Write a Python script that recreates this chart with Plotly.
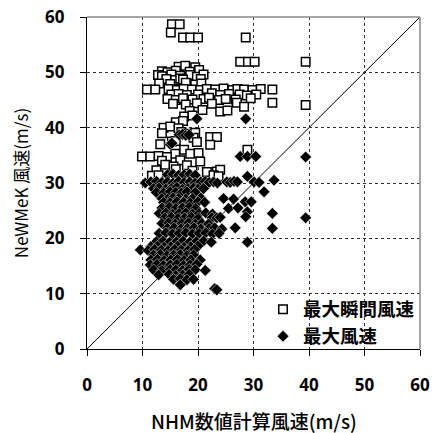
import plotly.graph_objects as go

# 最大瞬間風速 (open squares)
gust_x = [15.3, 16.7, 15.1, 17.3, 18.6, 20.0, 28.6, 27.6, 29.0, 30.2, 39.4,
          16.5, 17.7, 19.5,
          13.5, 14.5, 16.0, 18.5, 20.2,
          12.8, 13.5, 15.2, 16.8, 18.6, 19.8, 21.0,
          14.3, 15.9, 16.8, 17.3, 20.5,
          13.0, 15.0, 17.8, 19.5, 20.6,
          10.8, 12.3, 14.7, 16.2, 17.4, 18.9, 20.4, 21.6, 23.1, 24.6, 26.2, 27.1, 28.3, 29.8, 31.3, 33.4,
          15.2, 16.5, 18.0, 20.0, 22.5, 24.0, 25.6, 27.5, 28.8, 30.5,
          14.5, 16.0, 17.3, 19.0, 21.0, 22.0, 23.8, 25.0, 26.8, 29.5,
          15.5, 17.8, 19.8, 22.5, 27.0, 28.3, 33.4, 39.4,
          18.5, 20.8, 24.0, 25.3,
          17.5, 19.0,
          16.0, 17.3,
          13.8, 15.0, 16.5,
          13.5, 17.0, 18.2, 19.5,
          19.2, 22.2, 23.4,
          15.3, 16.0, 19.8,
          13.2, 22.2,
          17.5, 28.9,
          15.9, 18.6, 20.1,
          9.9, 11.4, 12.9, 14.4,
          13.5, 16.8,
          14.1, 15.6, 18.0, 20.4,
          12.5, 16.0, 19.0, 21.6, 23.4, 24.0,
          11.7, 12.9, 22.8, 23.7]
gust_y = [58.7, 58.7, 57.2, 56.3, 56.3, 56.3, 56.3, 51.9, 51.9, 51.9, 51.9,
          51.0, 51.2, 50.9,
          50.2, 50.0, 50.3, 50.1, 50.4,
          49.5, 49.3, 49.6, 49.4, 49.5, 49.2, 49.6,
          48.8, 48.6, 48.9, 48.7, 48.8,
          48.0, 47.9, 48.1, 47.8, 48.0,
          46.9, 46.9, 47.0, 46.8, 47.0, 46.9, 46.8, 47.0, 46.9, 47.1, 46.8, 47.0, 46.9, 46.8, 47.0, 46.9,
          46.0, 46.1, 45.9, 46.0, 46.2, 45.9, 46.1, 46.0, 45.8, 46.0,
          45.2, 45.0, 45.3, 45.1, 45.2, 45.4, 45.0, 45.2, 45.1, 45.3,
          44.3, 44.2, 44.4, 44.3, 44.5, 43.8, 44.5, 44.1,
          43.0, 43.2, 42.9, 43.1,
          42.0, 42.2,
          41.0, 41.2,
          40.0, 40.2, 39.9,
          39.0, 39.2, 38.9, 39.1,
          38.2, 38.3, 38.3,
          37.5, 37.6, 37.4,
          37.0, 36.9,
          36.0, 36.0,
          35.3, 35.3, 35.4,
          34.8, 34.8, 34.9, 34.7,
          34.0, 34.1,
          33.3, 33.0, 33.2, 33.9,
          32.3, 32.5, 32.2, 32.0, 32.1, 32.4,
          31.3, 31.4, 31.4, 31.2]

# 最大風速 (filled diamonds)
mean_x = [19.8, 28.6,
          16.6, 17.2, 17.8, 18.4,
          15.0, 15.3,
          27.6, 28.9, 30.4, 39.4,
          14.5, 15.5, 16.5, 17.5, 18.5, 19.5, 28.9,
          10.5, 11.5, 12.5, 13.5, 14.5, 15.5, 16.5, 17.5, 18.5, 19.5, 20.5, 21.3, 22.0, 22.8, 23.5, 25.2, 25.8, 26.5, 27.1, 30.1, 31.0, 33.7,
          12.0, 13.0, 14.2, 15.2, 16.2, 17.2, 18.2, 19.2, 20.0, 21.0,
          12.5, 13.8, 15.0, 16.0, 17.0, 18.0, 19.5, 31.9,
          13.5, 14.5, 15.5, 16.5, 17.8, 19.0, 20.5, 24.6, 26.4,
          13.8, 15.0, 16.2, 17.4, 18.6, 20.0, 21.2, 28.5, 29.6,
          13.5, 14.8, 16.0, 17.2, 18.4, 19.6, 25.5, 27.2,
          13.0, 14.2, 15.4, 16.6, 17.8, 19.0, 20.2, 21.4, 22.6, 28.9, 33.4,
          14.0, 15.2, 16.4, 17.6, 18.8, 20.0, 22.5, 23.4, 24.0, 28.6, 39.4,
          13.5, 14.7, 15.9, 17.1, 18.3, 19.5, 20.7, 21.9,
          14.5, 15.7, 16.9, 18.1, 19.3, 20.5, 22.0, 23.0, 24.3, 26.7, 33.4,
          13.0, 14.2, 15.4, 16.6, 17.8, 19.0, 20.2, 21.4, 22.6, 23.8,
          12.5, 13.7, 14.9, 16.1, 17.3, 18.5, 19.7, 21.0, 22.4, 28.9,
          11.5, 12.7, 13.9, 15.1, 16.3, 17.5, 18.7, 20.0,
          9.6, 11.0, 12.2, 13.4, 14.6, 15.8, 17.0, 18.2, 19.4,
          12.0, 13.2, 14.4, 15.6, 16.8, 18.0, 19.2,
          11.5, 12.7, 13.9, 15.1, 16.3, 17.5, 18.7, 20.4,
          11.4, 12.6, 13.8, 15.0, 16.2, 17.4, 18.6, 19.8,
          12.0, 13.5, 15.0, 16.0, 17.2, 18.4, 19.5, 21.3,
          12.9, 14.8, 16.0, 17.2, 18.4,
          15.6, 16.8, 18.0, 19.2,
          16.8,
          23.0, 23.4]
mean_y = [41.6, 41.6,
          38.7, 38.8, 38.6, 38.7,
          37.0, 37.2,
          34.8, 34.8, 34.8, 34.7,
          31.5, 31.6, 31.4, 31.5, 31.6, 31.4, 31.2,
          30.0, 30.2, 30.3, 30.1, 30.2, 30.0, 30.3, 30.1, 30.2, 30.0, 30.2, 30.3, 30.1, 30.2, 30.0, 30.2, 30.1, 30.3, 30.2, 30.2, 30.1, 30.5,
          29.0, 29.1, 28.9, 29.0, 29.2, 28.9, 29.0, 29.1, 28.9, 29.0,
          28.3, 28.2, 28.4, 28.3, 28.2, 28.4, 28.3, 28.4,
          27.2, 27.1, 27.3, 27.2, 27.1, 27.2, 27.3, 27.2, 27.1,
          26.5, 26.4, 26.6, 26.5, 26.4, 26.6, 26.5, 26.6, 26.6,
          25.5, 25.6, 25.4, 25.5, 25.6, 25.4, 25.4, 25.5,
          24.5, 24.6, 24.4, 24.5, 24.6, 24.4, 24.5, 24.6, 24.4, 24.8, 24.5,
          23.7, 23.8, 23.6, 23.7, 23.8, 23.6, 23.7, 23.7, 23.8, 23.9, 23.7,
          22.7, 22.8, 22.6, 22.7, 22.8, 22.6, 22.7, 22.6,
          21.8, 21.9, 21.7, 21.8, 21.9, 21.7, 21.8, 21.9, 21.7, 21.9, 21.8,
          20.9, 21.0, 20.8, 20.9, 21.0, 20.8, 20.9, 21.0, 20.8, 20.9,
          19.4, 19.5, 19.3, 19.4, 19.5, 19.3, 19.4, 19.5, 19.3, 19.3,
          18.5, 18.6, 18.4, 18.5, 18.6, 18.4, 18.5, 18.6,
          17.9, 17.8, 18.0, 17.9, 17.8, 18.0, 17.9, 17.8, 18.0,
          17.0, 17.1, 16.9, 17.0, 17.1, 16.9, 17.0,
          16.1, 16.2, 16.0, 16.1, 16.2, 16.0, 16.1, 16.1,
          15.2, 15.3, 15.1, 15.2, 15.3, 15.1, 15.2, 15.3,
          14.3, 14.2, 14.4, 14.3, 14.2, 14.4, 14.3, 14.2,
          13.4, 13.5, 13.3, 13.4, 13.5,
          12.6, 12.7, 12.5, 12.6,
          11.6,
          10.9, 10.7]

legend_names = ["最大瞬間風速", "最大風速"]
tick_vals = [0, 10, 20, 30, 40, 50, 60]
axis_range = [0, 60]
x_title = "NHM数値計算風速(m/s)"
y_title = "NeWMeK 風速(m/s)"

fig = go.Figure()

fig.add_shape(type="line", xref="x", yref="y", x0=axis_range[0], y0=axis_range[0],
              x1=axis_range[1], y1=axis_range[1], line=dict(color="black", width=1), layer="below")

# white panel behind the legend (covers gridlines like the original)
fig.add_shape(type="rect", xref="paper", yref="paper", x0=0.61, x1=0.997, y0=0.006, y1=0.16,
              fillcolor="white", line=dict(width=0), layer="between")

fig.add_trace(go.Scatter(
    x=gust_x, y=gust_y, mode="markers", name=legend_names[0],
    marker=dict(symbol="square", size=8.5, color="white", line=dict(color="black", width=1.5)),
))
fig.add_trace(go.Scatter(
    x=mean_x, y=mean_y, mode="markers", name=legend_names[1],
    marker=dict(symbol="diamond", size=9, color="black", line=dict(color="white", width=0.5)),
))

# top/right frame in gray
fig.add_shape(type="line", xref="paper", yref="paper", x0=0, y0=1, x1=1, y1=1,
              line=dict(color="#888", width=1.5))
fig.add_shape(type="line", xref="paper", yref="paper", x0=1, y0=0, x1=1, y1=1,
              line=dict(color="#888", width=1.5))

tick_font = dict(family="Open Sans, sans-serif", size=17, color="black", weight="bold")
axis_common = dict(
    range=axis_range, tickvals=tick_vals, showgrid=True, gridcolor="#333", griddash="dot",
    gridwidth=1, showline=True, linecolor="black", linewidth=1.2, ticks="outside",
    ticklen=6, tickcolor="black", zeroline=False, tickfont=tick_font, fixedrange=True,
    automargin=False,
)

fig.add_annotation(text=x_title, xref="paper", yref="paper", x=0.5, y=-0.214,
                   xanchor="center", yanchor="middle", showarrow=False,
                   font=dict(family="Noto Sans CJK JP", size=19, color="black", weight=500))

fig.update_layout(
    width=436, height=433,
    margin=dict(l=87, r=16, t=17, b=84),
    paper_bgcolor="white", plot_bgcolor="white",
    xaxis=dict(**axis_common, ticklabelstandoff=14),
    yaxis=dict(**axis_common, ticklabelstandoff=12,
               title=dict(text=y_title, standoff=12,
                          font=dict(family="Noto Sans CJK JP", size=17, color="black"))),
    legend=dict(x=1, y=-0.02, xanchor="right", yanchor="bottom", bgcolor="rgba(0,0,0,0)",
                font=dict(family="Noto Sans CJK JP", size=18.5, color="black", weight="bold"),
                itemwidth=30, tracegroupgap=0),
    showlegend=True,
)

fig.write_html("out.html")
